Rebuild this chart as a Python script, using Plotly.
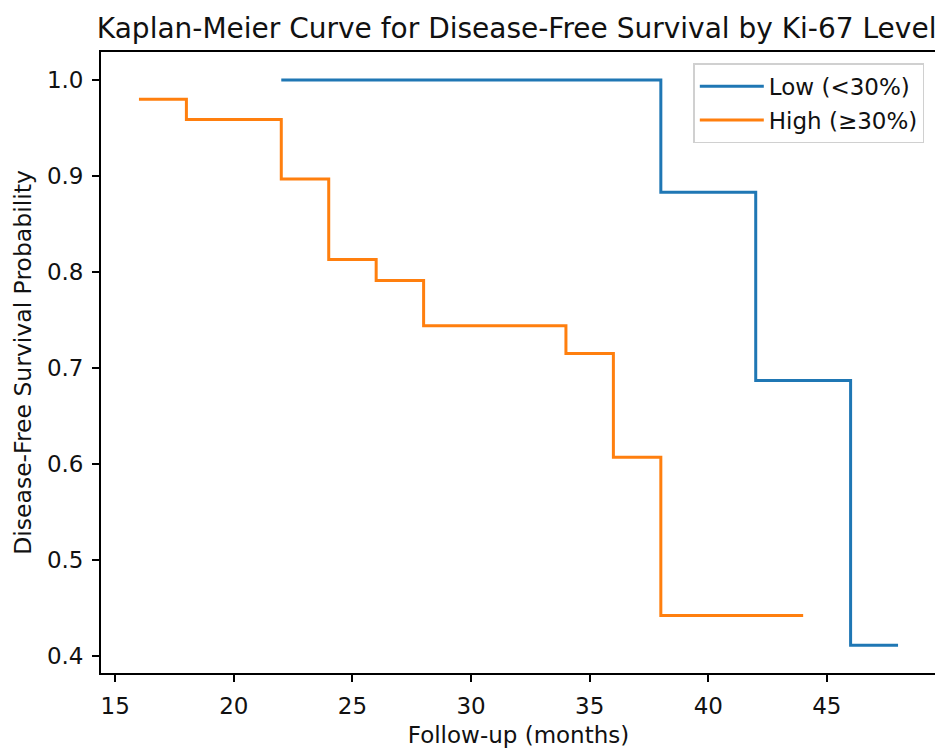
import plotly.graph_objects as go

# Data
low_months = [22, 38, 42, 46, 48]
low_surv = [1.0, 0.883, 0.687, 0.411, 0.411]
high_months = [16, 18, 22, 24, 26, 28, 34, 36, 38, 44]
high_surv = [0.98, 0.959, 0.897, 0.813, 0.791, 0.744, 0.715, 0.607, 0.442, 0.442]
x_ticks = [15, 20, 25, 30, 35, 40, 45]
y_ticks = [0.4, 0.5, 0.6, 0.7, 0.8, 0.9, 1.0]

font = "DejaVu Sans"
fig = go.Figure()
fig.add_trace(go.Scatter(x=low_months, y=low_surv, mode="lines", line_shape="hv",
                         name="Low (<30%)", legendgroup="low",
                         line=dict(color="#1f77b4", width=3)))
fig.add_trace(go.Scatter(x=high_months, y=high_surv, mode="lines", line_shape="hv",
                         name="High (≥30%)", legendgroup="high",
                         line=dict(color="#ff7f0e", width=3)))

axis_common = dict(showgrid=False, zeroline=False, showline=True, linecolor="black",
                   linewidth=1.8, mirror=True, ticks="outside", ticklen=7, tickwidth=1.8,
                   tickcolor="black", tickfont=dict(family=font, size=23, color="#111111"))

# Page body has an 8px default margin; figure is sized/margined to compensate.
fig.update_layout(
    width=935, height=741,
    paper_bgcolor="white", plot_bgcolor="white",
    margin=dict(l=93, r=5, t=44, b=72),
    title=dict(text="Kaplan-Meier Curve for Disease-Free Survival by Ki-67 Level",
               x=0.544, xanchor="center", xref="container",
               y=0.973, yanchor="middle", yref="container",
               font=dict(family=font, size=28, color="#111111")),
    xaxis=dict(range=[14.4, 49.6], tickvals=x_ticks, ticklabelstandoff=4,
               title=dict(text="Follow-up (months)", standoff=9,
                          font=dict(family=font, size=23, color="#111111")),
               **axis_common),
    yaxis=dict(range=[0.382, 1.0293], tickvals=y_ticks, tickformat=".1f",
               ticklabelstandoff=4,
               title=dict(text="Disease-Free Survival Probability", standoff=9,
                          font=dict(family=font, size=23.5, color="#111111")),
               **axis_common),
    legend=dict(x=0.986, y=0.982, xanchor="right", yanchor="top",
                bgcolor="rgba(255,255,255,0.8)", bordercolor="#d0d0d0", borderwidth=1.5,
                tracegroupgap=1, itemwidth=64,
                font=dict(family=font, size=23, color="#111111")),
    showlegend=True,
)

fig.write_html("out.html")
